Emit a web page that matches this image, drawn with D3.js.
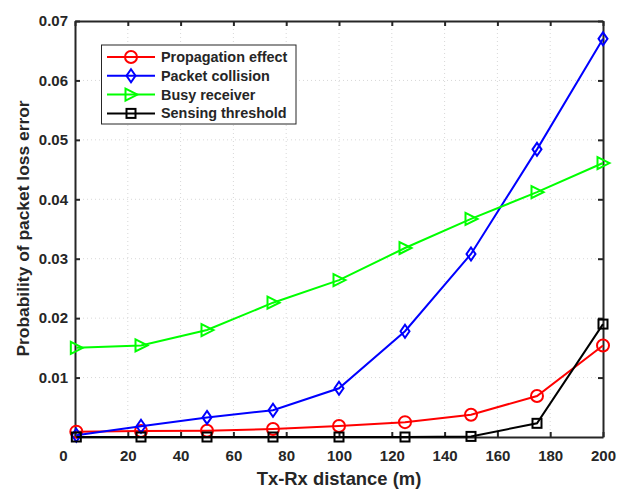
<!DOCTYPE html>
<html>
<head>
<meta charset="utf-8">
<script src="https://cdn.jsdelivr.net/npm/d3@7"></script>
<style>
  body { margin: 0; background: #fff; }
  svg { display: block; }
  text { font-family: Arial, "Liberation Sans", sans-serif; font-weight: bold; fill: #262626; }
</style>
</head>
<body>
<svg id="chart"></svg>
<script>
const distance = [0.5, 25, 50, 75, 100, 125, 150, 175, 200];
const propagation = [0.0009, 0.001, 0.00106, 0.00135, 0.00185, 0.0025, 0.00375, 0.0069, 0.0154];
const collision = [0.0003, 0.0018, 0.0033, 0.0045, 0.0082, 0.0178, 0.0308, 0.0484, 0.067];
const busy = [0.015, 0.0154, 0.018, 0.0226, 0.0264, 0.0318, 0.0367, 0.0412, 0.0461];
const sensing = [0, 0, 0, 0, 0, 0, 0.0001, 0.0023, 0.019];
const xTicks = [0, 20, 40, 60, 80, 100, 120, 140, 160, 180, 200];
const yTicks = [0.01, 0.02, 0.03, 0.04, 0.05, 0.06, 0.07];

const series = [
  { name: 'Propagation effect', values: propagation, color: '#ff0000', marker: 'circle' },
  { name: 'Packet collision', values: collision, color: '#0000ff', marker: 'diamond' },
  { name: 'Busy receiver', values: busy, color: '#00ff00', marker: 'triangle' },
  { name: 'Sensing threshold', values: sensing, color: '#000000', marker: 'square' }
];

const W = 625, H = 489;
const pLeft = 75, pRight = 603, pTop = 21, pBottom = 437;

const svg = d3.select('#chart').attr('width', W).attr('height', H);

const xScale = d3.scaleLinear().domain([0, 200]).range([pLeft, pRight]);
const yScale = d3.scaleLinear().domain([0, 0.07]).range([pBottom, pTop]);

// grid
const grid = svg.append('g');
grid.selectAll('.vg').data(xTicks.slice(1, -1)).enter().append('line')
  .attr('x1', d => xScale(d)).attr('x2', d => xScale(d))
  .attr('y1', pTop).attr('y2', pBottom)
  .attr('stroke', '#d8d8d8').attr('stroke-width', 1).attr('stroke-dasharray', '1 3');
grid.selectAll('.hg').data(yTicks.slice(0, -1)).enter().append('line')
  .attr('x1', pLeft).attr('x2', pRight)
  .attr('y1', d => yScale(d)).attr('y2', d => yScale(d))
  .attr('stroke', '#d8d8d8').attr('stroke-width', 1).attr('stroke-dasharray', '1 3');

// axes
const xAxis = d3.axisBottom(xScale).tickValues(xTicks).tickSizeInner(-5).tickSizeOuter(0).tickPadding(13);
const yAxis = d3.axisLeft(yScale).tickValues(yTicks).tickSizeInner(-5).tickSizeOuter(0).tickPadding(7)
  .tickFormat(d3.format('.2f'));
const xTop = d3.axisTop(xScale).tickValues(xTicks).tickSizeInner(-5).tickSizeOuter(0).tickFormat('');
const yRight = d3.axisRight(yScale).tickValues(yTicks).tickSizeInner(-5).tickSizeOuter(0).tickFormat('');

function styleAxis(g) {
  g.select('.domain').attr('stroke', '#262626').attr('stroke-width', 2);
  g.selectAll('.tick line').attr('stroke', '#262626').attr('stroke-width', 2);
  g.selectAll('.tick text').style('font-size', '15px').attr('fill', '#262626');
}

const gx = svg.append('g').attr('transform', `translate(0,${pBottom})`).call(xAxis).call(styleAxis);
// the zero label sits left of the corner in the original
gx.selectAll('.tick text').filter(d => d === 0).attr('dx', -12);
svg.append('g').attr('transform', `translate(${pLeft},0)`).call(yAxis).call(styleAxis);
svg.append('g').attr('transform', `translate(0,${pTop})`).call(xTop).call(styleAxis);
svg.append('g').attr('transform', `translate(${pRight},0)`).call(yRight).call(styleAxis);

// axis labels
svg.append('text')
  .attr('x', 339).attr('y', 485)
  .attr('text-anchor', 'middle').style('font-size', '18.4px')
  .text('Tx-Rx distance (m)');
svg.append('text')
  .attr('transform', `translate(29,228.5) rotate(-90)`)
  .attr('text-anchor', 'middle').style('font-size', '17.4px')
  .text('Probability of packet loss error');

// markers
function drawMarker(g, type, color) {
  if (type === 'circle') {
    g.append('circle').attr('r', 6);
  } else if (type === 'diamond') {
    g.append('path').attr('d', 'M0,-6.5L4.5,0L0,6.5L-4.5,0Z');
  } else if (type === 'triangle') {
    g.append('path').attr('d', 'M6.5,0L-5.5,-6L-5.5,6Z');
  } else {
    g.append('rect').attr('x', -4.5).attr('y', -4.5).attr('width', 9).attr('height', 9);
  }
  g.selectAll('*').attr('fill', 'none').attr('stroke', color).attr('stroke-width', 2);
}

const line = d3.line().x((d, i) => xScale(distance[i])).y(d => yScale(d));

series.forEach(s => {
  const g = svg.append('g');
  g.append('path').datum(s.values)
    .attr('d', line).attr('fill', 'none')
    .attr('stroke', s.color).attr('stroke-width', 2);
  s.values.forEach((v, i) => {
    const m = g.append('g').attr('transform', `translate(${xScale(distance[i])},${yScale(v)})`);
    drawMarker(m, s.marker, s.color);
  });
});

// legend
const legend = svg.append('g');
legend.append('rect')
  .attr('x', 101.5).attr('y', 45).attr('width', 194.5).attr('height', 79)
  .attr('fill', '#fff').attr('stroke', '#262626').attr('stroke-width', 1);
series.forEach((s, i) => {
  const y = 57 + i * 18.8;
  legend.append('line').attr('x1', 107).attr('x2', 155).attr('y1', y).attr('y2', y)
    .attr('stroke', s.color).attr('stroke-width', 2);
  drawMarker(legend.append('g').attr('transform', `translate(131,${y})`), s.marker, s.color);
  legend.append('text').attr('x', 161).attr('y', y + 5)
    .style('font-size', '14.4px').attr('fill', '#000').text(s.name);
});
</script>
</body>
</html>
